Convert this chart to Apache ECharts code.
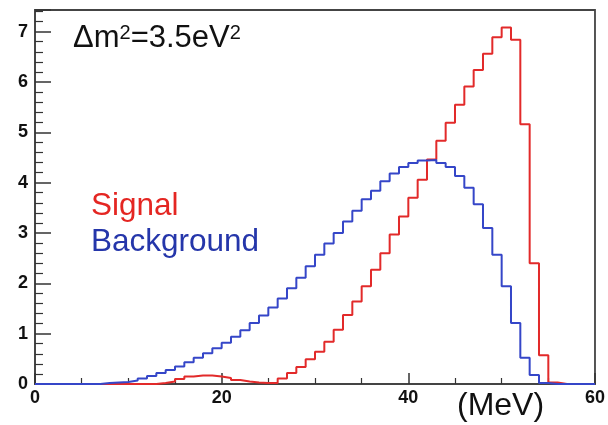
<!DOCTYPE html>
<html>
<head>
<meta charset="utf-8">
<script src="https://cdn.jsdelivr.net/npm/echarts@6/dist/echarts.min.js"></script>
<style>
  html, body { margin: 0; padding: 0; background: #fff; }
  #main { width: 608px; height: 425px; }
</style>
</head>
<body>
<div id="main"></div>
<script>
// bins are 1 MeV wide, 0..60 MeV
var binWidth = 1;
var xTickLabels = [0, 20, 40, 60];
var yTickLabels = [0, 1, 2, 3, 4, 5, 6, 7];

// signal (red), one value per bin
var signal = [
  0, 0, 0, 0, 0, 0, 0, 0, 0, 0,
  0, 0, 0, 0.02, 0.05, 0.10, 0.15, 0.17, 0.17, 0.15,
  0.12, 0.08, 0.05, 0.03, 0.02, 0.02, 0.11, 0.22, 0.34, 0.49,
  0.64, 0.84, 1.08, 1.37, 1.64, 1.94, 2.27, 2.60, 2.97, 3.33,
  3.70, 4.06, 4.46, 4.83, 5.19, 5.55, 5.91, 6.24, 6.56, 6.89,
  7.08, 6.84, 5.16, 2.40, 0.57, 0.03, 0, 0, 0, 0
];

// background (blue)
var background = [
  0, 0, 0, 0, 0, 0, 0, 0.02, 0.03, 0.04,
  0.07, 0.11, 0.16, 0.22, 0.28, 0.35, 0.43, 0.52, 0.61, 0.71,
  0.82, 0.94, 1.07, 1.21, 1.36, 1.52, 1.70, 1.90, 2.11, 2.34,
  2.57, 2.79, 3.00, 3.23, 3.44, 3.67, 3.84, 4.03, 4.18, 4.31,
  4.39, 4.44, 4.45, 4.39, 4.31, 4.13, 3.90, 3.57, 3.10, 2.57,
  1.94, 1.21, 0.52, 0.18, 0.02, 0, 0, 0, 0, 0
];

// histogram outline: a point at each bin's left edge, plus the last right edge
function histPoints(values) {
  var pts = [];
  for (var i = 0; i < values.length; i++) {
    pts.push([i * binWidth, values[i]]);
  }
  pts.push([values.length * binWidth, values[values.length - 1]]);
  return pts;
}

var font = "'Liberation Sans', Arial, sans-serif";

var chart = echarts.init(document.getElementById('main'), null, { renderer: 'canvas' });

var option = {
  animation: false,
  backgroundColor: '#fff',
  grid: {
    left: 35, right: 13, top: 10, bottom: 41,
    show: true,
    borderColor: '#444',
    borderWidth: 1.8
  },
  xAxis: {
    type: 'value',
    min: 0, max: 60, interval: 20,
    axisLine: { show: true, lineStyle: { color: '#444', width: 1.8 } },
    axisTick: { show: true, inside: true, length: 11, lineStyle: { color: '#333', width: 1.5 } },
    minorTick: { show: true, splitNumber: 4, length: 6, lineStyle: { color: '#333', width: 1.2 } },
    splitLine: { show: false },
    axisLabel: {
      margin: 5,
      color: '#111', fontSize: 18, fontWeight: 'bold', fontFamily: font,
      formatter: function (v) { return xTickLabels.indexOf(v) >= 0 ? String(v) : ''; }
    }
  },
  yAxis: {
    type: 'value',
    min: 0, max: 7.43, interval: 1,
    axisLine: { show: true, lineStyle: { color: '#444', width: 1.8 } },
    axisTick: { show: true, inside: true, length: 16, lineStyle: { color: '#333', width: 1.5 } },
    minorTick: { show: true, splitNumber: 5, length: 8, lineStyle: { color: '#333', width: 1.2 } },
    splitLine: { show: false },
    axisLabel: {
      margin: 7, showMaxLabel: false,
      color: '#111', fontSize: 18, fontWeight: 'bold', fontFamily: font,
      formatter: function (v) { return yTickLabels.indexOf(v) >= 0 ? String(v) : ''; }
    }
  },
  series: [
    {
      name: 'Signal',
      type: 'line',
      step: 'end',
      symbol: 'none',
      data: histPoints(signal),
      lineStyle: { color: '#e22a2a', width: 2 },
      z: 3
    },
    {
      name: 'Background',
      type: 'line',
      step: 'end',
      symbol: 'none',
      data: histPoints(background),
      lineStyle: { color: '#3546c8', width: 2 },
      z: 4
    }
  ],
  graphic: [
    {
      type: 'text', left: 73, top: 23,
      style: {
        text: 'Δm{s|2}=3.5eV{s|2}',
        fill: '#111', font: '31px ' + font,
        rich: {
          s: { fontSize: 20, fontFamily: font, fill: '#111', verticalAlign: 'top', padding: [0, 0, 8, 0] }
        }
      }
    },
    {
      type: 'text', left: 91, top: 190,
      style: { text: 'Signal', fill: '#e42622', font: '31.5px ' + font }
    },
    {
      type: 'text', left: 91, top: 226,
      style: { text: 'Background', fill: '#2536aa', font: '31.5px ' + font }
    },
    {
      type: 'text', left: 457, top: 390,
      style: { text: '(MeV)', fill: '#111', font: '32px ' + font }
    }
  ]
};

chart.setOption(option);
</script>
</body>
</html>
